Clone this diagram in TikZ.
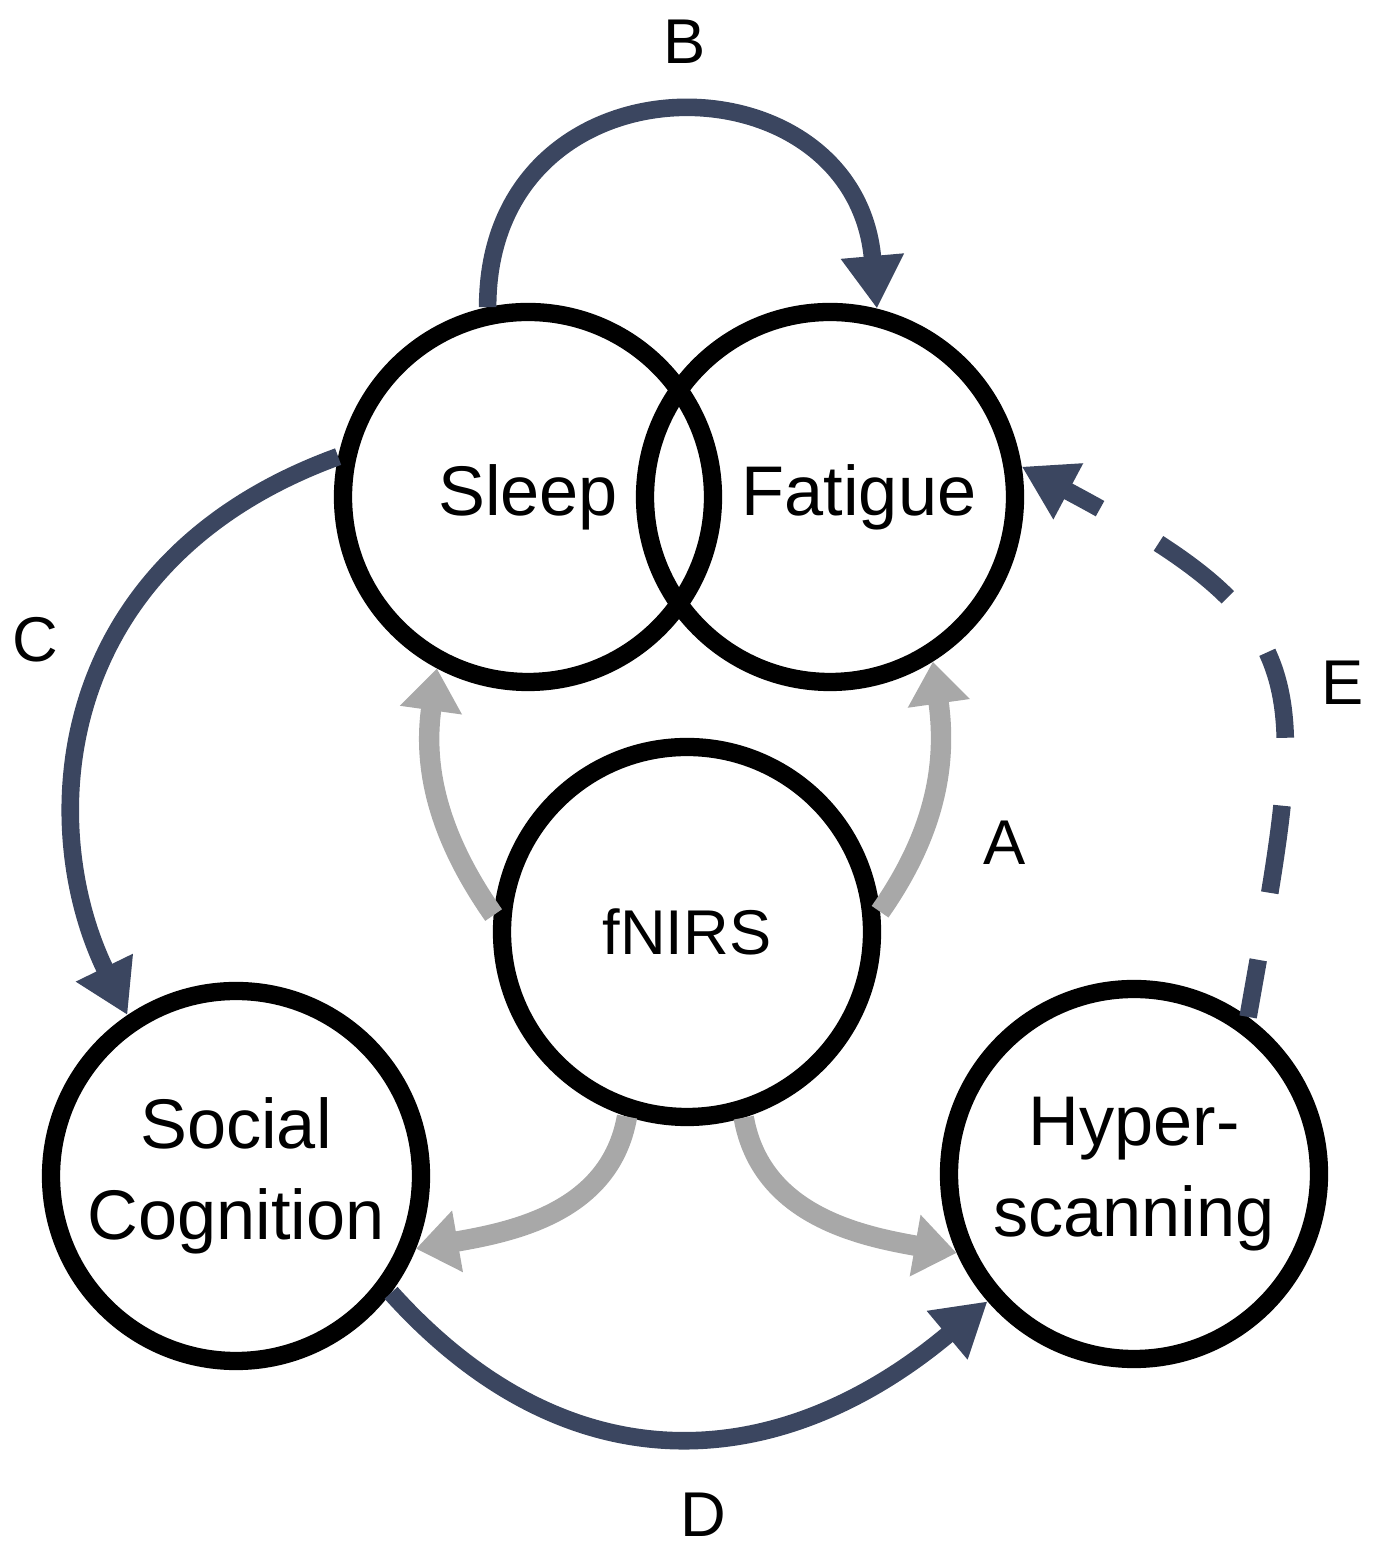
\documentclass[tikz,border=0pt]{standalone}
\usepackage{fontspec}
\setmainfont{Liberation Sans}
\usetikzlibrary{arrows.meta}
\definecolor{slate}{HTML}{3B4660}
\definecolor{fadegray}{HTML}{A8A8A8}
\tikzset{
  ring/.style={
    circle, draw=black, line width=5.2pt, minimum size=3.70cm,
    align=center, inner sep=0pt, font=\fontsize{20}{26}\selectfont
  },
  word/.style={font=\fontsize{20}{26}\selectfont, inner sep=0pt},
  darkarrow/.style={
    draw=slate, line width=5pt,
    -{Triangle[width=17pt,length=15pt]}
  },
  grayarrow/.style={
    draw=fadegray, line width=5.8pt,
    -{Triangle[width=17pt,length=12pt]}
  },
  letter/.style={font=\fontsize{18}{20}\selectfont}
}

\begin{document}
\begin{tikzpicture}[scale=1]
  \useasboundingbox (0,0) rectangle (13.75,15.48);

  \node[ring] (sleep)   at (5.28,10.51) {Sleep};
  \node[ring] (fatigue) at (8.30,10.51) {};
  \node[ring,font=\fontsize{18}{22}\selectfont] (fnirs) at (6.87,6.16) {fNIRS};
  \node[ring] (social)  at (2.36,3.72) {Social\\Cognition};
  \node[ring] (hyper)   at (11.34,3.74) {Hyper-\\scanning};
  % the word sits right of the centre, clear of the overlap
  \node[word] (fatiguetxt) at (8.59,10.51) {Fatigue};

  % A: fNIRS towards the four other circles
  \draw[grayarrow] (fnirs.175) to[out=125,in=-98] (sleep.242);
  \draw[grayarrow] (fnirs.6) to[out=55,in=-82] (fatigue.302);
  \draw[grayarrow] (fnirs.252) to[out=-100,in=10] (social.338);
  \draw[grayarrow] (fnirs.287) to[out=-80,in=170] (hyper.204);

  % B, C, D and the dashed E
  \draw[darkarrow] (sleep.102) to[out=90,in=95,looseness=1.7] (fatigue.76);
  \draw[darkarrow] (sleep.168)
    to[out=200,in=116,out looseness=1.32,in looseness=0.9] (social.124);
  \draw[darkarrow] (social.323) to[out=-48,in=220,looseness=1.15] (hyper.221);
  \draw[darkarrow,dash pattern=on 0.88cm off 0.68cm,dash phase=0.3cm]
    (hyper.54) to[out=80,in=-28,looseness=1.48] (fatigue.9);

  \node[letter] (labA) at (10.05,7.05) {A};
  \node[letter] (labB) at (6.85,15.06) {B};
  \node[letter] (labC) at (0.35,9.08) {C};
  \node[letter] (labD) at (7.03,0.33) {D};
  \node[letter] (labE) at (13.43,8.65) {E};
\end{tikzpicture}
\end{document}
